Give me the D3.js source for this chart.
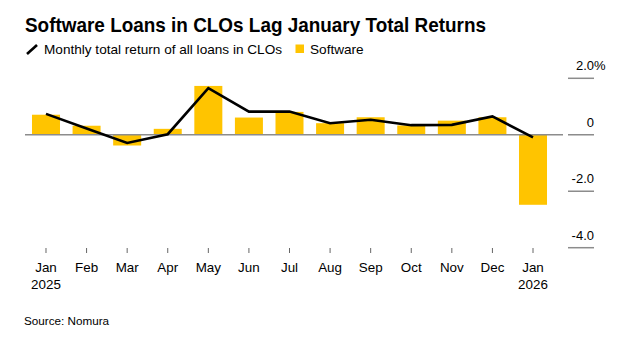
<!DOCTYPE html>
<html>
<head>
<meta charset="utf-8">
<script src="https://cdn.jsdelivr.net/npm/d3@7"></script>
<style>
  body { margin: 0; background: #fff; }
  text { font-family: "Liberation Sans", Arial, sans-serif; fill: #000; }
</style>
</head>
<body>
<div class="canvas"></div>
<script>
// data
var months = ['Jan', 'Feb', 'Mar', 'Apr', 'May', 'Jun', 'Jul', 'Aug', 'Sep', 'Oct', 'Nov', 'Dec', 'Jan'],
    years = ['2025', '', '', '', '', '', '', '', '', '', '', '', '2026'],
    software = [0.71, 0.32, -0.38, 0.21, 1.73, 0.61, 0.81, 0.41, 0.62, 0.33, 0.50, 0.62, -2.48],
    allLoans = [0.74, 0.22, -0.29, 0.02, 1.65, 0.82, 0.82, 0.41, 0.53, 0.34, 0.35, 0.65, -0.09],
    yTicks = [2, 0, -2, -4],
    yLabels = ['2.0', '0', '-2.0', '-4.0'];

var width = 624,
    height = 337;

var svg = d3.select('.canvas').append('svg')
    .attr('width', width)
    .attr('height', height);

var keys = months.map(function (m, i) { return i; });

var x = d3.scaleBand()
    .domain(keys)
    .range([25.7, 553.3])
    .paddingInner(0.31)
    .paddingOuter(0.155);

var y = d3.scaleLinear()
    .domain([-4, 2])
    .range([247.7, 78.3]);

// title + legend
svg.append('text')
    .attr('x', 25)
    .attr('y', 32)
    .attr('font-size', 21)
    .attr('font-weight', 'bold')
    .attr('textLength', 461)
    .attr('lengthAdjust', 'spacingAndGlyphs')
    .text('Software Loans in CLOs Lag January Total Returns');

svg.append('line')
    .attr('x1', 27).attr('y1', 54)
    .attr('x2', 37).attr('y2', 45)
    .attr('stroke', '#000')
    .attr('stroke-width', 2.6);

svg.append('text')
    .attr('x', 44)
    .attr('y', 53.5)
    .attr('font-size', 13.6)
    .text('Monthly total return of all loans in CLOs');

svg.append('rect')
    .attr('x', 295.5).attr('y', 44.5)
    .attr('width', 8.5).attr('height', 8.5)
    .attr('fill', '#ffc400');

svg.append('text')
    .attr('x', 310)
    .attr('y', 53.5)
    .attr('font-size', 13.6)
    .text('Software');

// right axis
var yAxis = svg.append('g');

yAxis.selectAll('line')
    .data(yTicks)
    .enter()
    .append('line')
    .attr('x1', 568).attr('x2', 594)
    .attr('y1', function (d) { return y(d); })
    .attr('y2', function (d) { return y(d); })
    .attr('stroke', '#8c8c8c')
    .attr('stroke-width', 1.5);

yAxis.selectAll('text')
    .data(yTicks)
    .enter()
    .append('text')
    .attr('x', 594)
    .attr('y', function (d) { return y(d) - 8; })
    .attr('text-anchor', 'end')
    .attr('font-size', 13)
    .text(function (d, i) { return yLabels[i]; });

svg.append('text')
    .attr('x', 594)
    .attr('y', y(2) - 8)
    .attr('font-size', 13)
    .text('%');

// bars
svg.append('g').selectAll('rect')
    .data(software)
    .enter()
    .append('rect')
    .attr('x', function (d, i) { return x(i); })
    .attr('y', function (d) { return y(Math.max(0, d)); })
    .attr('width', x.bandwidth())
    .attr('height', function (d) { return Math.abs(y(d) - y(0)); })
    .attr('fill', '#ffc400');

// zero line
svg.append('line')
    .attr('x1', 25).attr('x2', 563)
    .attr('y1', y(0)).attr('y2', y(0))
    .attr('stroke', '#8c8c8c')
    .attr('stroke-width', 1.5);

// total return line
var line = d3.line()
    .x(function (d, i) { return x(i) + x.bandwidth() / 2; })
    .y(function (d) { return y(d); });

svg.append('path')
    .datum(allLoans)
    .attr('d', line)
    .attr('fill', 'none')
    .attr('stroke', '#000')
    .attr('stroke-width', 2.6)
    .attr('stroke-linejoin', 'miter');

// bottom axis
var xAxis = svg.append('g')
    .attr('transform', 'translate(0,248)')
    .call(d3.axisBottom(x)
        .tickSize(5)
        .tickFormat(function (d) { return months[d]; }));

xAxis.select('.domain').remove();
xAxis.selectAll('.tick line')
    .attr('stroke', '#666');
xAxis.selectAll('.tick text')
    .attr('y', 24)
    .attr('dy', 0)
    .attr('font-size', 13.4)
    .attr('font-family', '"Liberation Sans", Arial, sans-serif')
    .attr('fill', '#000');

xAxis.selectAll('.tick')
    .append('text')
    .attr('y', 41)
    .attr('text-anchor', 'middle')
    .attr('font-size', 13.4)
    .text(function (d) { return years[d]; });

svg.append('text')
    .attr('x', 24)
    .attr('y', 325)
    .attr('font-size', 11.7)
    .text('Source: Nomura');
</script>
</body>
</html>
